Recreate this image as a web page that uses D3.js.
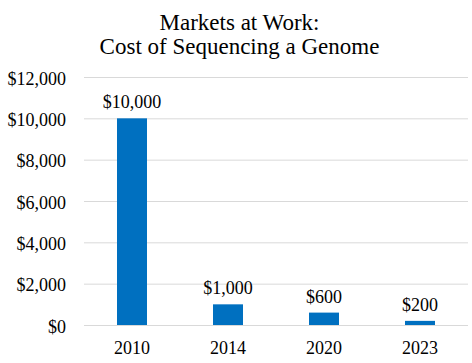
<!DOCTYPE html>
<html>
<head>
<meta charset="utf-8">
<script src="https://cdn.jsdelivr.net/npm/d3@7"></script>
<style>
  body { margin: 0; background: #fff; }
</style>
</head>
<body>
<div id="chart"></div>
<script>
const years = ["2010", "2014", "2020", "2023"];
const costs = [10000, 1000, 600, 200];
const yTicks = [0, 2000, 4000, 6000, 8000, 10000, 12000];
const titleLines = ["Markets at Work:", "Cost of Sequencing a Genome"];

const width = 472, height = 363;
const margin = { top: 77, right: 4, bottom: 38, left: 84 };
const serif = '"Liberation Serif"';

const svg = d3.select("#chart").append("svg")
  .attr("width", width)
  .attr("height", height);

const x = d3.scaleBand()
  .domain(years)
  .range([margin.left, width - margin.right])
  .paddingInner(0.6875)
  .paddingOuter(0.34375);

const y = d3.scaleLinear()
  .domain([0, 12000])
  .range([height - margin.bottom, margin.top]);

const fmt = d => "$" + d3.format(",")(d);

// title
svg.selectAll(".title")
  .data(titleLines)
  .join("text")
  .attr("class", "title")
  .attr("x", 239.5)
  .attr("y", (d, i) => 29.5 + i * 24)
  .attr("text-anchor", "middle")
  .style("font-family", serif)
  .style("font-size", "23px")
  .style("fill", "#000")
  .text(d => d);

// gridlines + y labels
const yAxis = svg.append("g")
  .attr("transform", `translate(${margin.left},0)`)
  .call(d3.axisLeft(y).tickValues(yTicks).tickFormat(fmt)
    .tickSize(-(width - margin.left - margin.right)).tickPadding(18));
yAxis.select(".domain").remove();
yAxis.selectAll(".tick line").attr("stroke", "#d9d9d9").attr("stroke-width", 1);
yAxis.selectAll(".tick text")
  .attr("dy", "0.4em")
  .style("font-size", "18px")
  .style("font-family", serif)
  .style("fill", "#000");

// x labels
const xAxis = svg.append("g")
  .attr("transform", `translate(0,${height - margin.bottom})`)
  .call(d3.axisBottom(x).tickSize(0).tickPadding(16));
xAxis.select(".domain").remove();
xAxis.selectAll(".tick text")
  .style("font-size", "18px")
  .style("font-family", serif)
  .style("fill", "#000");

// bars
svg.selectAll(".bar")
  .data(costs)
  .join("rect")
  .attr("class", "bar")
  .attr("x", (d, i) => x(years[i]))
  .attr("width", x.bandwidth())
  .attr("y", d => y(d))
  .attr("height", d => y(0) - y(d))
  .attr("fill", "#0070c0");

// value labels
svg.selectAll(".val")
  .data(costs)
  .join("text")
  .attr("class", "val")
  .attr("x", (d, i) => x(years[i]) + x.bandwidth() / 2)
  .attr("y", d => y(d) - 10)
  .attr("text-anchor", "middle")
  .style("font-family", serif)
  .style("font-size", "18px")
  .style("fill", "#000")
  .text(fmt);
</script>
</body>
</html>
